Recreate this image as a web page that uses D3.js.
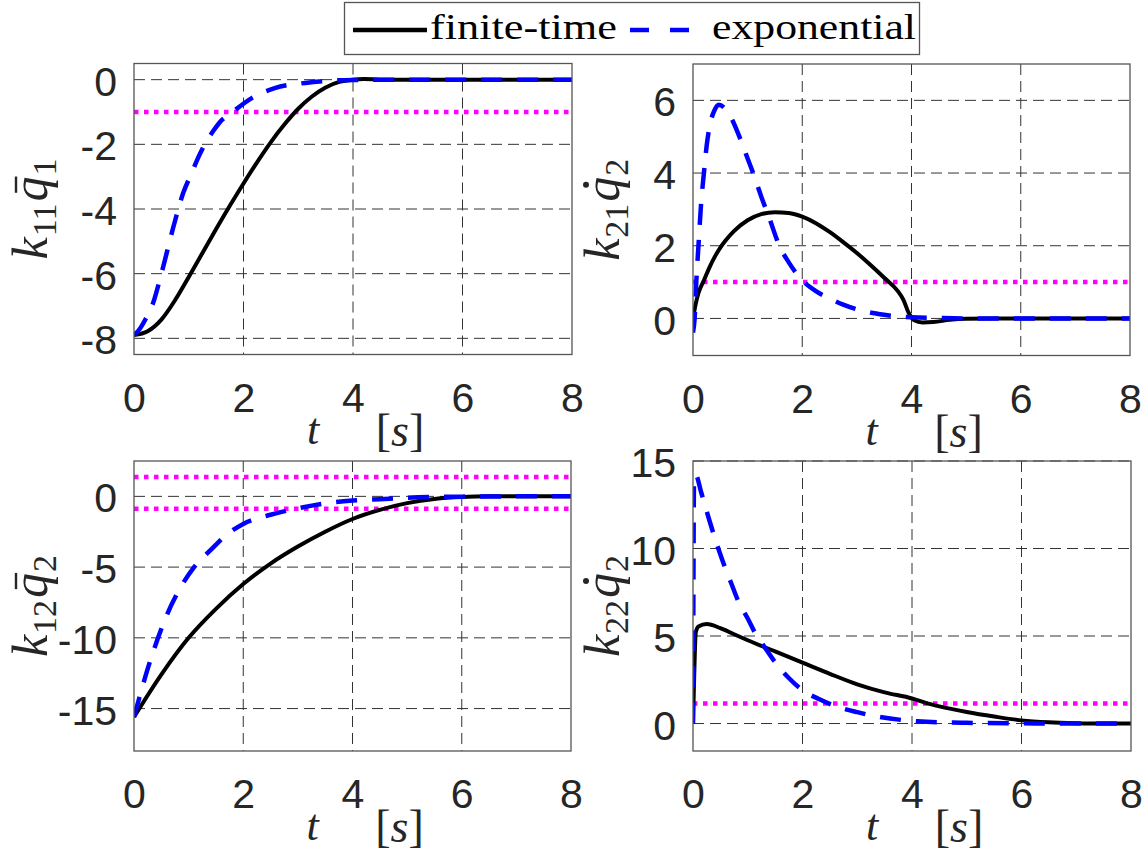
<!DOCTYPE html>
<html>
<head>
<meta charset="utf-8">
<script src="https://cdn.jsdelivr.net/npm/d3@7"></script>
<style>
  body { margin: 0; background: #fff; }
  svg { display: block; }
</style>
</head>
<body>
<svg id="chart" width="1146" height="855"></svg>
<script>
// ---- shared axis values ----
const xTicks = [0, 2, 4, 6, 8];
const seriesNames = ["finite-time", "exponential"];

// ---- k11 * qbar1 ----
const k11Ticks = [-8, -6, -4, -2, 0];
const k11Bounds = [-1];
const k11FiniteT = [0, 0.25, 0.5, 0.75, 1, 1.25, 1.5, 1.75, 2, 2.25, 2.5, 2.75, 3, 3.25, 3.5, 3.75, 4, 4.2, 4.5, 5, 6, 7, 8];
const k11FiniteV = [-7.9, -7.78, -7.42, -6.82, -6.1, -5.36, -4.62, -3.9, -3.21, -2.55, -1.93, -1.38, -0.9, -0.52, -0.24, -0.07, 0, 0.02, 0, 0, 0, 0, 0];
const k11ExpT = [0, 0.1, 0.2, 0.35, 0.5, 0.72, 0.9, 1.05, 1.17, 1.31, 1.45, 1.56, 1.8, 2.15, 2.57, 3.13, 3.6, 4, 5, 6, 7, 8];
const k11ExpV = [-7.9, -7.72, -7.44, -6.9, -6.0, -4.55, -3.5, -2.9, -2.42, -1.95, -1.58, -1.33, -1.0, -0.57, -0.26, -0.1, -0.03, -0.01, 0, 0, 0, 0];

// ---- k21 * qdot2 ----
const k21Ticks = [0, 2, 4, 6];
const k21Bounds = [1];
const k21FiniteT = [0, 0.05, 0.1, 0.2, 0.3, 0.4, 0.5, 0.6, 0.75, 1, 1.25, 1.5, 1.75, 2, 2.25, 2.5, 2.75, 3, 3.25, 3.5, 3.75, 3.85, 3.95, 4.05, 4.2, 4.4, 4.7, 5, 5.5, 6, 7, 8];
const k21FiniteV = [0, 0.4, 0.7, 1.05, 1.4, 1.7, 1.95, 2.15, 2.4, 2.7, 2.87, 2.92, 2.9, 2.8, 2.62, 2.38, 2.1, 1.8, 1.47, 1.12, 0.75, 0.52, 0.15, -0.05, -0.11, -0.1, -0.04, -0.01, 0, 0, 0, 0];
const k21ExpT = [0, 0.03, 0.06, 0.1, 0.15, 0.2, 0.25, 0.3, 0.4, 0.47, 0.6, 0.7, 0.85, 1, 1.1, 1.25, 1.4, 1.58, 1.75, 2, 2.25, 2.5, 2.75, 3, 3.5, 4, 4.5, 5, 6, 7, 8];
const k21ExpV = [-0.39, 0, 1.0, 2.0, 3.2, 4.0, 4.75, 5.25, 5.75, 5.88, 5.75, 5.52, 5.0, 4.4, 4.0, 3.35, 2.75, 2.0, 1.55, 1.05, 0.75, 0.55, 0.38, 0.25, 0.1, 0.03, 0.01, 0, 0, 0, 0];

// ---- k12 * qbar2 ----
const k12Ticks = [-15, -10, -5, 0];
const k12Bounds = [1.37, -0.87];
const k12FiniteT = [0, 0.5, 1, 1.5, 2, 2.5, 3, 3.5, 4, 4.5, 5, 5.5, 6, 6.5, 7, 8];
const k12FiniteV = [-15.6, -12.6, -10.0, -7.95, -6.2, -4.75, -3.55, -2.5, -1.6, -0.95, -0.48, -0.18, -0.04, 0, 0, 0];
const k12ExpT = [0, 0.1, 0.25, 0.44, 0.6, 0.8, 1.1, 1.4, 1.7, 2, 2.5, 3, 3.5, 4, 4.5, 5, 6, 7, 8];
const k12ExpV = [-15.6, -14.2, -12.2, -10.0, -8.4, -6.8, -5.0, -3.8, -2.7, -1.95, -1.3, -0.85, -0.5, -0.3, -0.2, -0.1, -0.02, 0, 0];

// ---- k22 * qdot2 ----
const k22Ticks = [0, 5, 10, 15];
const k22Bounds = [1.15];
const k22FiniteT = [0, 0.02, 0.05, 0.1, 0.25, 0.5, 0.75, 1, 1.5, 2, 2.5, 3, 3.5, 4, 4.25, 4.5, 5, 5.5, 6, 6.5, 7, 7.5, 8];
const k22FiniteV = [0, 2.5, 5.2, 5.55, 5.68, 5.45, 5.1, 4.76, 4.12, 3.48, 2.84, 2.24, 1.78, 1.43, 1.18, 0.98, 0.66, 0.4, 0.18, 0.07, 0.02, 0, 0];
const k22ExpT = [0, 0.02, 0.05, 0.15, 0.3, 0.44, 0.54, 0.7, 0.84, 1, 1.13, 1.3, 1.5, 1.75, 2, 2.3, 2.6, 3, 3.4, 4.1, 5, 6, 7, 8];
const k22ExpV = [0, 14.1, 14.2, 13.2, 11.6, 10.2, 9.3, 8.0, 6.9, 6.0, 5.2, 4.4, 3.5, 2.6, 1.9, 1.4, 1.0, 0.65, 0.38, 0.13, 0.04, 0.01, 0, 0];

// ---- panel layout ----
const panels = [
  { box: { l: 134, r: 572, t: 63.5, b: 354.5 }, yDomain: [-8.5, 0.5], yTicks: k11Ticks, bounds: k11Bounds,
    finite: [k11FiniteT, k11FiniteV], expo: [k11ExpT, k11ExpV], label: { sub: "11", accent: "bar", qsub: "1" }, labelX: 47 },
  { box: { l: 693, r: 1130, t: 64, b: 355.5 }, yDomain: [-1.02, 7], yTicks: k21Ticks, bounds: k21Bounds,
    finite: [k21FiniteT, k21FiniteV], expo: [k21ExpT, k21ExpV], label: { sub: "21", accent: "dot", qsub: "2" }, labelX: 619 },
  { box: { l: 134, r: 571, t: 461, b: 751 }, yDomain: [-18, 2.5], yTicks: k12Ticks, bounds: k12Bounds,
    finite: [k12FiniteT, k12FiniteV], expo: [k12ExpT, k12ExpV], label: { sub: "12", accent: "bar", qsub: "2" }, labelX: 47 },
  { box: { l: 693, r: 1131, t: 461, b: 751 }, yDomain: [-1.57, 15], yTicks: k22Ticks, bounds: k22Bounds,
    finite: [k22FiniteT, k22FiniteV], expo: [k22ExpT, k22ExpV], label: { sub: "22", accent: "dot", qsub: "2" }, labelX: 619 }
];

const svg = d3.select("#chart");
const axisColor = "#262626";
const sansFont = "'Liberation Sans', Arial, Helvetica, sans-serif";
const serifFont = "'Liberation Serif', 'Times New Roman', serif";

panels.forEach((p, i) => {
  const b = p.box;
  const x = d3.scaleLinear().domain([0, 8]).range([b.l, b.r]);
  const y = d3.scaleLinear().domain(p.yDomain).range([b.b, b.t]);
  const g = svg.append("g");

  const clipId = "clip" + i;
  svg.append("clipPath").attr("id", clipId)
    .append("rect").attr("x", b.l).attr("y", b.t).attr("width", b.r - b.l).attr("height", b.b - b.t);

  // grid
  g.selectAll(".vgrid").data(xTicks.filter(v => v > 0 && v < 8)).join("line")
    .attr("x1", d => x(d)).attr("x2", d => x(d)).attr("y1", b.t).attr("y2", b.b)
    .attr("stroke", "#333").attr("stroke-width", 1).attr("stroke-dasharray", "11,6");
  g.selectAll(".hgrid").data(p.yTicks).join("line")
    .attr("x1", b.l).attr("x2", b.r).attr("y1", d => y(d)).attr("y2", d => y(d))
    .attr("stroke", "#333").attr("stroke-width", 1).attr("stroke-dasharray", "11,6");

  // axes with tick labels
  const xAxis = d3.axisBottom(x).tickValues(xTicks).tickSize(0).tickPadding(28).tickFormat(d3.format("d"));
  const gx = g.append("g").attr("transform", `translate(0,${b.b})`).call(xAxis);
  gx.select(".domain").remove();
  gx.selectAll("text").attr("font-family", sansFont).attr("font-size", 41).attr("fill", axisColor)
    .attr("dy", "0.71em");

  const yAxis = d3.axisLeft(y).tickValues(p.yTicks).tickSize(0).tickPadding(17).tickFormat(d => String(d));
  const gy = g.append("g").attr("transform", `translate(${b.l},0)`).call(yAxis);
  gy.select(".domain").remove();
  gy.selectAll("text").attr("font-family", sansFont).attr("font-size", 41).attr("fill", axisColor)
    .attr("dy", "0.38em");

  const plot = g.append("g").attr("clip-path", `url(#${clipId})`);

  // bound lines
  plot.selectAll(".bound").data(p.bounds).join("line")
    .attr("x1", b.l).attr("x2", b.r).attr("y1", d => y(d)).attr("y2", d => y(d))
    .attr("stroke", "#ff00ff").attr("stroke-width", 4.5).attr("stroke-dasharray", "4.5,5.5");

  const line = d3.line().x(d => x(d[0])).y(d => y(d[1])).curve(d3.curveMonotoneX);
  const fin = p.finite[0].map((t, k) => [t, p.finite[1][k]]);
  const exp = p.expo[0].map((t, k) => [t, p.expo[1][k]]);

  plot.append("path").datum(fin).attr("d", line)
    .attr("fill", "none").attr("stroke", "#000").attr("stroke-width", 4).attr("stroke-linejoin", "round");
  plot.append("path").datum(exp).attr("d", line)
    .attr("fill", "none").attr("stroke", "#0000ff").attr("stroke-width", 4.5).attr("stroke-dasharray", "21,15");

  // frame
  g.append("rect").attr("x", b.l).attr("y", b.t).attr("width", b.r - b.l).attr("height", b.b - b.t)
    .attr("fill", "none").attr("stroke", "#555").attr("stroke-width", 1.3);

  // x label: t  [s]
  const cx = (b.l + b.r) / 2;
  const base = b.b + 89;
  g.append("text").attr("x", cx - 40).attr("y", base).attr("text-anchor", "middle")
    .attr("font-family", serifFont).attr("font-style", "italic").attr("font-size", 44).attr("fill", axisColor).text("t");
  const sl = g.append("text").attr("x", cx + 47).attr("y", base + 2).attr("text-anchor", "middle")
    .attr("font-family", serifFont).attr("font-size", 46).attr("fill", axisColor);
  sl.append("tspan").text("[");
  sl.append("tspan").attr("font-style", "italic").text("s");
  sl.append("tspan").text("]");

  // y label: k_{ij} q(accent)_n, rotated
  const cy = (b.t + b.b) / 2;
  const lg = g.append("g").attr("transform", `translate(${p.labelX},${cy}) rotate(-90)`);
  const inner = lg.append("g");
  const big = 50, small = 34;
  let cursor = 0;
  const piece = (txt, size, italic, dy) => {
    const t = inner.append("text").attr("x", cursor).attr("y", dy)
      .attr("font-family", serifFont).attr("font-size", size)
      .attr("font-style", italic ? "italic" : "normal").attr("fill", axisColor).text(txt);
    const w = t.node().getComputedTextLength();
    const start = cursor;
    cursor += w;
    return { start, w };
  };
  piece("k", big, true, 0);
  cursor += 1;
  piece(p.label.sub, small, false, 9);
  cursor += 2;
  const q = piece("q", big, true, 0);
  cursor += 1;
  piece(p.label.qsub, small, false, 9);
  if (p.label.accent === "bar") {
    inner.append("line")
      .attr("x1", q.start + q.w * 0.35).attr("x2", q.start + q.w * 1.0)
      .attr("y1", -31).attr("y2", -31)
      .attr("stroke", axisColor).attr("stroke-width", 2.4);
  } else {
    inner.append("circle").attr("cx", q.start + q.w * 0.68).attr("cy", -33).attr("r", 3).attr("fill", axisColor);
  }
  inner.attr("transform", `translate(${-cursor / 2},0)`);
});

// legend
const leg = svg.append("g");
leg.append("rect").attr("x", 344.5).attr("y", 2.5).attr("width", 575).attr("height", 52)
  .attr("fill", "#fff").attr("stroke", "#555").attr("stroke-width", 1.3);
leg.append("line").attr("x1", 353).attr("x2", 427).attr("y1", 30).attr("y2", 30)
  .attr("stroke", "#000").attr("stroke-width", 4.5);
leg.append("text").attr("x", 430).attr("y", 38.5).attr("font-family", serifFont).attr("font-size", 36)
  .attr("fill", "#000").attr("textLength", 187).attr("lengthAdjust", "spacingAndGlyphs").text(seriesNames[0]);
leg.append("line").attr("x1", 630).attr("x2", 689).attr("y1", 30).attr("y2", 30)
  .attr("stroke", "#0000ff").attr("stroke-width", 4.5).attr("stroke-dasharray", "19,21");
leg.append("text").attr("x", 712).attr("y", 38.5).attr("font-family", serifFont).attr("font-size", 36)
  .attr("fill", "#000").attr("textLength", 204).attr("lengthAdjust", "spacingAndGlyphs").text(seriesNames[1]);
</script>
</body>
</html>
